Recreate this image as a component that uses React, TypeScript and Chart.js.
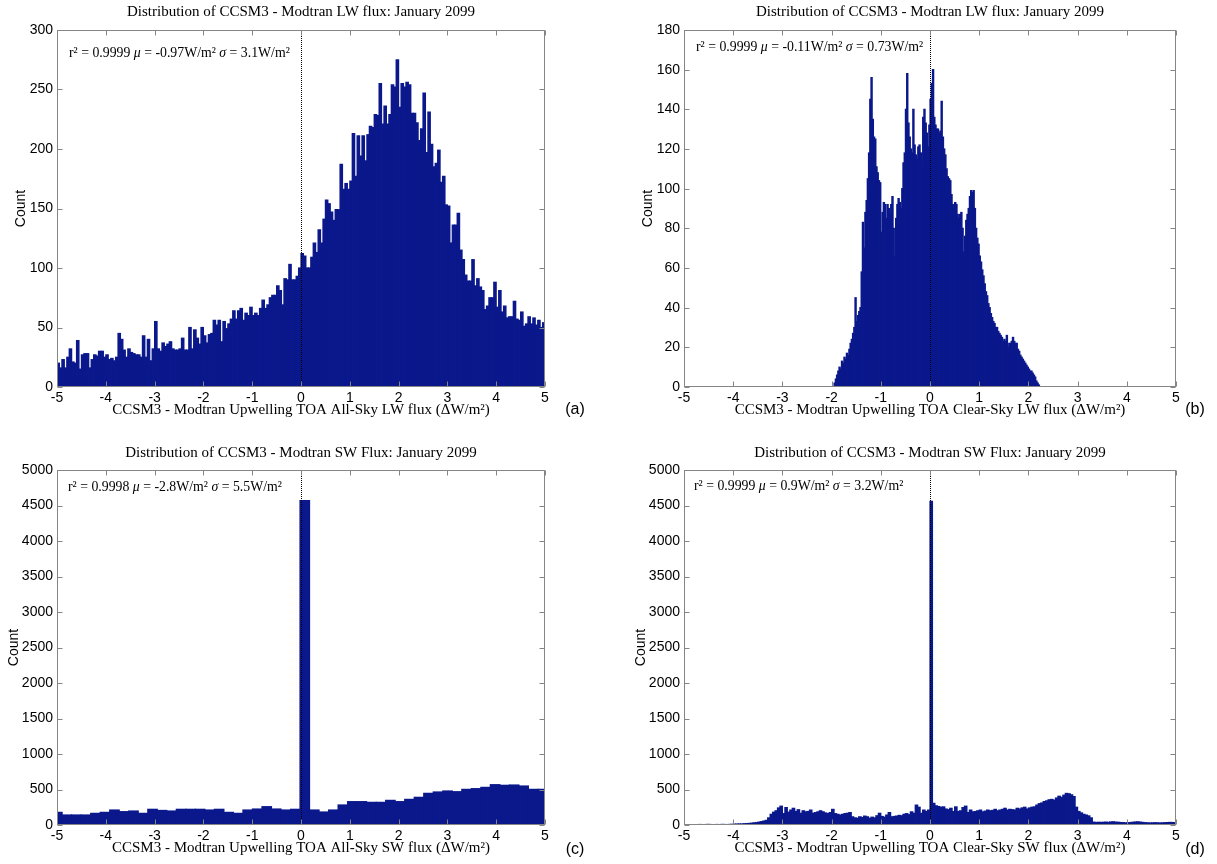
import React, { useEffect, useRef } from "react";
import { Chart, registerables } from "chart.js";

Chart.register(...registerables);

// ---------- data ----------
const X_MIN = -5;
const X_MAX = 5;
const X_STEP = 1;

// (a) All-sky LW, bins of 0.05 starting at -5
const A_BIN_START = -5;
const A_BIN_WIDTH = 0.05;
const A_COUNTS = [
  20, 16, 23, 16, 25, 32, 21, 20, 39, 15, 27, 28, 28, 16, 23, 27, 26, 30, 30, 25,
  27, 23, 24, 22, 25, 45, 40, 31, 25, 32, 29, 28, 27, 27, 25, 43, 25, 40, 22, 32,
  55, 32, 30, 37, 34, 36, 38, 32, 31, 31, 32, 41, 31, 31, 50, 32, 48, 41, 36, 50,
  43, 37, 44, 45, 56, 52, 56, 38, 55, 49, 53, 57, 64, 57, 64, 66, 56, 62, 60, 67,
  60, 62, 60, 66, 73, 66, 69, 75, 77, 77, 85, 81, 69, 91, 90, 103, 90, 90, 93, 100,
  112, 110, 100, 100, 109, 121, 113, 132, 121, 141,
  157, 154, 147, 140, 149, 149, 187, 166, 171, 166,
  173, 213, 177, 211, 194, 211, 190, 212, 219, 218,
  229, 228, 255, 221, 236, 221, 229, 254, 252, 275,
  235, 255, 252, 256, 254, 230, 230, 222, 207, 217,
  247, 197, 231, 204, 185, 188, 199, 172, 177, 153,
  152, 121, 136, 136, 146, 115, 107, 94, 89, 89,
  107, 85, 91, 84, 81, 65, 68, 75, 75, 88,
  67, 81, 63, 68, 58, 59, 59, 72, 57, 56,
  63, 51, 53, 59, 53, 58, 52, 56, 50, 54,
];

// (b) Clear-sky LW, bins of 0.025 starting at -2
const B_BIN_START = -2;
const B_BIN_WIDTH = 0.025;
const B_COUNTS = [
  0, 0, 2, 4, 6, 8, 10, 9, 13, 12,
  15, 14, 17, 16, 19, 22, 24, 27, 30, 45,
  33, 36, 38, 40, 58, 83, 70, 88, 94, 105,
  118, 145, 156, 135, 126, 125, 111, 108, 104, 103,
  78, 88, 93, 92, 85, 92, 90, 87, 92, 96,
  80, 66, 85, 92, 95, 93, 90, 100, 113, 118,
  140, 158, 133, 126, 120, 118, 140, 122, 117, 115,
  121, 122, 118, 111, 136, 140, 133, 128, 121, 132,
  145, 153, 160, 136, 132, 130, 130, 128, 129, 144,
  126, 120, 117, 110, 106, 105, 104, 97, 92, 90,
  93, 92, 87, 85, 87, 88, 80, 68, 76, 84,
  87, 90, 96, 99, 98, 99, 90, 80, 75, 72,
  66, 63, 59, 56, 52, 48, 46, 42, 40, 37,
  35, 33, 32, 30, 30, 28, 27, 26, 25, 23,
  24, 23, 26, 20, 22, 22, 23, 25, 23, 22,
  22, 19, 18, 16, 15, 14, 13, 12, 11, 10,
  9, 8, 8, 7, 6, 5, 3, 2, 1, 0,
];

// (c) All-sky SW, bins of 0.195 starting at -5.09
const C_BIN_START = -5.09;
const C_BIN_WIDTH = 0.195;
const C_COUNTS = [
  178, 141, 141, 141, 164, 178, 211, 188, 197, 164,
  221, 205, 197, 221, 221, 221, 211, 221, 178, 164,
  211, 225, 258, 225, 211, 221, 4570, 211, 183, 211,
  282, 329, 329, 319, 319, 347, 329, 361, 390, 446,
  465, 479, 469, 502, 512, 530, 568, 559, 563, 549,
  502, 502,
];

// (d) Clear-sky SW, bins of 0.05 starting at -5
const D_BIN_START = -5;
const D_BIN_WIDTH = 0.05;
const D_COUNTS = [
  5, 4, 6, 5, 4, 6, 7, 5, 6, 8, 7, 6, 5, 7, 6, 8, 7, 6, 8, 9,
  12, 13, 15, 14, 18, 20, 22, 25, 30, 33,
  40, 47, 55, 65, 100, 150, 180, 200, 240, 265,
  160, 245, 180, 210, 235, 190, 215, 165, 200, 185,
  190, 210, 165, 175, 185, 200, 185, 170, 160, 175,
  220, 160, 150, 140, 150, 160, 165, 175, 115, 100,
  95, 115, 105, 125, 115, 95, 110, 100, 130, 165,
  120, 110, 140, 175, 115, 120, 125, 135, 130, 150,
  160, 145, 185, 165, 280, 250, 165, 210, 190, 210,
  4560,
  305, 270, 260, 250, 255, 225, 215, 235, 190,
  255, 190, 200, 245, 265, 175, 210, 185, 190, 200,
  210, 185, 195, 210, 200, 205, 220, 200, 210, 220,
  235, 210, 220, 215, 210, 235, 225, 240, 250, 225,
  240, 250, 255, 280, 300, 310, 330, 340, 355, 360,
  350, 380, 405, 390, 420, 445, 440, 425, 400, 250,
  190, 170, 150, 140, 128, 100, 40,
  35, 38, 36, 38, 40, 37, 42, 45, 40, 38, 35, 33, 30, 32, 35, 38, 42,
  44, 40, 36, 32, 30, 28, 30, 32, 30, 28, 30, 32, 34, 36, 35, 33,
];

const TITLE_LW = "Distribution of CCSM3 - Modtran LW flux: January 2099";
const TITLE_SW = "Distribution of CCSM3 - Modtran SW Flux: January 2099";
const XLABEL_A = "CCSM3 - Modtran Upwelling TOA All-Sky LW flux (\u0394W/m\u00B2)";
const XLABEL_B = "CCSM3 - Modtran Upwelling TOA Clear-Sky LW flux (\u0394W/m\u00B2)";
const XLABEL_C = "CCSM3 - Modtran Upwelling TOA All-Sky SW flux (\u0394W/m\u00B2)";
const XLABEL_D = "CCSM3 - Modtran Upwelling TOA Clear-Sky SW flux (\u0394W/m\u00B2)";
const Y_LABEL = "Count";

const STATS_A = ["0.9999", "-0.97", "3.1"];
const STATS_B = ["0.9999", "-0.11", "0.73"];
const STATS_C = ["0.9998", "-2.8", "5.5"];
const STATS_D = ["0.9999", "0.9", "3.2"];

// ---------- styles ----------
const BAR_COLOR = "#0a188c";
const FRAME_COLOR = "#858585";
const SERIF = '"Liberation Serif", "Times New Roman", serif';
const SANS = '"Liberation Sans", Arial, Helvetica, sans-serif';

type Panel = {
  key: string;
  title: string;
  xLabel: string;
  letter: string;
  stats: string[];
  counts: number[];
  binStart: number;
  binWidth: number;
  yMax: number;
  yStep: number;
  box: { left: number; top: number; width: number; height: number };
  yAxisWidth: number;
  padRight: number;
  titlePad: { top: number; bottom: number };
  xAxisHeight: number;
  xTitlePadBottom: number;
  yTitlePadTop: number;
  letterPos: [number, number];
  statsOffset: [number, number];
};

const PANELS: Panel[] = [
  {
    key: "a", title: TITLE_LW, xLabel: XLABEL_A, letter: "(a)", stats: STATS_A,
    counts: A_COUNTS, binStart: A_BIN_START, binWidth: A_BIN_WIDTH, yMax: 300, yStep: 50,
    box: { left: 0, top: 0, width: 608, height: 432 },
    yAxisWidth: 57, padRight: 63, titlePad: { top: 3, bottom: 9 },
    xAxisHeight: 45, xTitlePadBottom: 13, yTitlePadTop: 12.6,
    letterPos: [575, 410], statsOffset: [12, 23],
  },
  {
    key: "b", title: TITLE_LW, xLabel: XLABEL_B, letter: "(b)", stats: STATS_B,
    counts: B_COUNTS, binStart: B_BIN_START, binWidth: B_BIN_WIDTH, yMax: 180, yStep: 20,
    box: { left: 608, top: 0, width: 609, height: 432 },
    yAxisWidth: 76, padRight: 41, titlePad: { top: 3, bottom: 9 },
    xAxisHeight: 45, xTitlePadBottom: 13, yTitlePadTop: 31.6,
    letterPos: [587, 410], statsOffset: [12, 17],
  },
  {
    key: "c", title: TITLE_SW, xLabel: XLABEL_C, letter: "(c)", stats: STATS_C,
    counts: C_COUNTS, binStart: C_BIN_START, binWidth: C_BIN_WIDTH, yMax: 5000, yStep: 500,
    box: { left: 0, top: 432, width: 608, height: 432 },
    yAxisWidth: 57, padRight: 63, titlePad: { top: 12, bottom: 8 },
    xAxisHeight: 39, xTitlePadBottom: 7, yTitlePadTop: 5.6,
    letterPos: [575, 418], statsOffset: [11, 17],
  },
  {
    key: "d", title: TITLE_SW, xLabel: XLABEL_D, letter: "(d)", stats: STATS_D,
    counts: D_COUNTS, binStart: D_BIN_START, binWidth: D_BIN_WIDTH, yMax: 5000, yStep: 500,
    box: { left: 608, top: 432, width: 609, height: 432 },
    yAxisWidth: 76, padRight: 41, titlePad: { top: 12, bottom: 8 },
    xAxisHeight: 39, xTitlePadBottom: 7, yTitlePadTop: 24.6,
    letterPos: [587, 418], statsOffset: [10, 16],
  },
];

function makeDecor(p: Panel) {
  return {
    id: "decor_" + p.key,
    afterDatasetsDraw(chart: any) {
      const { ctx, chartArea: a } = chart;
      const xs = chart.scales.x;
      const ys = chart.scales.y;
      ctx.save();
      // zero reference line (dotted)
      const x0 = Math.round(xs.getPixelForValue(0)) + 0.5;
      ctx.strokeStyle = "#000";
      ctx.lineWidth = 1;
      ctx.setLineDash([1, 1]);
      ctx.beginPath();
      ctx.moveTo(x0, a.top);
      ctx.lineTo(x0, a.bottom);
      ctx.stroke();
      ctx.setLineDash([]);
      // frame
      const L = Math.round(a.left) + 0.5;
      const R = Math.round(a.right) - 0.5;
      const T = Math.round(a.top) + 0.5;
      const B = Math.round(a.bottom) - 0.5;
      ctx.strokeStyle = FRAME_COLOR;
      ctx.strokeRect(L, T, R - L, B - T);
      // inward ticks
      ctx.beginPath();
      for (const t of xs.ticks) {
        const px = Math.round(xs.getPixelForValue(t.value)) + 0.5;
        ctx.moveTo(px, B);
        ctx.lineTo(px, B - 5);
        ctx.moveTo(px, T);
        ctx.lineTo(px, T + 5);
      }
      for (const t of ys.ticks) {
        const py = Math.round(ys.getPixelForValue(t.value)) + 0.5;
        ctx.moveTo(L, py);
        ctx.lineTo(L + 5, py);
        ctx.moveTo(R, py);
        ctx.lineTo(R - 5, py);
      }
      ctx.stroke();
      // statistics text
      const segs: [string, boolean][] = [
        ["r\u00B2 = " + p.stats[0] + " ", false],
        ["\u03BC", true],
        [" = " + p.stats[1] + "W/m\u00B2 ", false],
        ["\u03C3", true],
        [" = " + p.stats[2] + "W/m\u00B2", false],
      ];
      let tx = a.left + p.statsOffset[0];
      const ty = a.top + p.statsOffset[1];
      ctx.fillStyle = "#000";
      ctx.textAlign = "left";
      ctx.textBaseline = "middle";
      for (const [s, it] of segs) {
        ctx.font = (it ? "italic " : "") + "13.8px " + SERIF;
        ctx.fillText(s, tx, ty);
        tx += ctx.measureText(s).width;
      }
      // panel letter
      ctx.font = "16px " + SANS;
      ctx.textAlign = "center";
      ctx.fillText(p.letter, p.letterPos[0], p.letterPos[1]);
      ctx.restore();
    },
  };
}

function makeConfig(p: Panel): any {
  const data = p.counts.map((c, i) => ({ x: p.binStart + p.binWidth * (i + 0.5), y: c }));
  return {
    type: "bar",
    data: {
      datasets: [
        {
          data,
          backgroundColor: BAR_COLOR,
          borderWidth: 0,
          categoryPercentage: 1,
          barPercentage: 1,
          inflateAmount: 0.6,
          clip: 0,
        },
      ],
    },
    options: {
      animation: false,
      responsive: false,
      layout: { padding: { left: 0, right: p.padRight, top: 0, bottom: 0 } },
      plugins: {
        legend: { display: false },
        tooltip: { enabled: false },
        title: {
          display: true,
          text: p.title,
          fullSize: false,
          color: "#000",
          font: { family: SERIF, size: 15, weight: "normal" },
          padding: { top: p.titlePad.top, bottom: p.titlePad.bottom },
        },
      },
      scales: {
        x: {
          type: "linear",
          min: X_MIN,
          max: X_MAX,
          offset: false,
          grid: { display: false, drawTicks: false },
          border: { display: false },
          ticks: {
            stepSize: X_STEP,
            autoSkip: false,
            maxRotation: 0,
            padding: 3,
            color: "#000",
            font: { family: SANS, size: 14 },
            callback: (v: number) => String(v),
          },
          title: {
            display: true,
            text: p.xLabel,
            color: "#000",
            font: { family: SERIF, size: 15 },
            padding: { top: 0, bottom: p.xTitlePadBottom },
          },
          afterFit: (s: any) => {
            s.height = p.xAxisHeight;
          },
        },
        y: {
          type: "linear",
          min: 0,
          max: p.yMax,
          grid: { display: false, drawTicks: false },
          border: { display: false },
          ticks: {
            stepSize: p.yStep,
            autoSkip: false,
            padding: 4,
            color: "#000",
            font: { family: SANS, size: 14 },
            callback: (v: number) => String(v),
          },
          title: {
            display: true,
            text: Y_LABEL,
            color: "#000",
            font: { family: SANS, size: 14 },
            padding: { top: p.yTitlePadTop, bottom: 0 },
          },
          afterFit: (s: any) => {
            s.width = p.yAxisWidth;
          },
        },
      },
    },
    plugins: [makeDecor(p)],
  };
}

function HistPanel({ p }: { p: Panel }) {
  const ref = useRef<HTMLCanvasElement>(null);
  useEffect(() => {
    if (!ref.current) return;
    const chart = new Chart(ref.current, makeConfig(p));
    return () => chart.destroy();
  }, [p]);
  return (
    <canvas
      ref={ref}
      width={p.box.width}
      height={p.box.height}
      style={{
        position: "absolute",
        left: p.box.left,
        top: p.box.top,
        width: p.box.width,
        height: p.box.height,
      }}
    />
  );
}

export default function App() {
  return (
    <div
      style={{
        position: "absolute",
        left: 0,
        top: 0,
        width: 1217,
        height: 864,
        background: "#fff",
        overflow: "hidden",
      }}
    >
      {PANELS.map((p) => (
        <HistPanel key={p.key} p={p} />
      ))}
    </div>
  );
}
